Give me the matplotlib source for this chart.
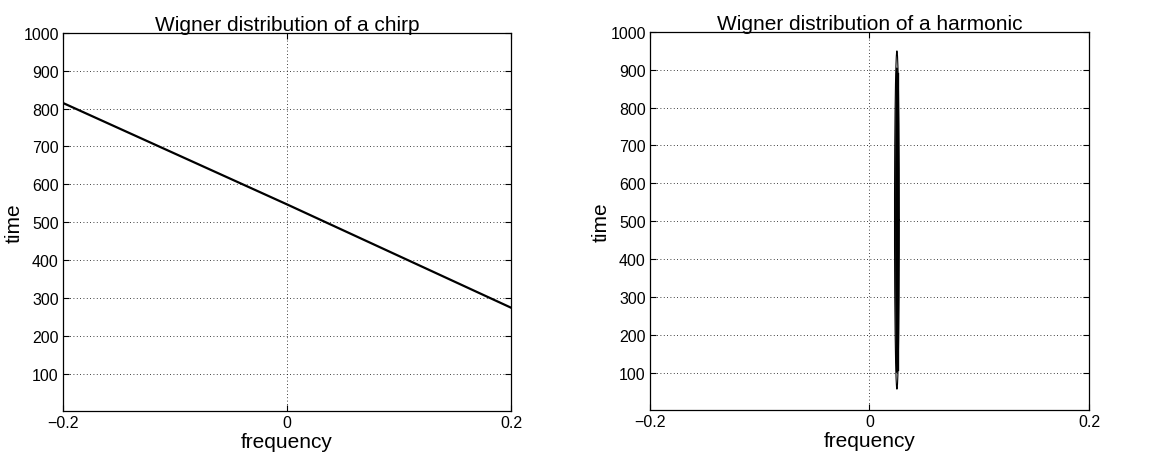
import numpy as np
import matplotlib
matplotlib.use("Agg")
import matplotlib.pyplot as plt

plt.rcParams['font.family'] = ['Liberation Sans', 'DejaVu Sans']

# Chirp: instantaneous frequency line (frequency, time)
chirp_freq = [-0.2, 0.0, 0.2]
chirp_time = [815, 547, 274]

# Harmonic: contour outlines (center frequency, half-width, time start, time end)
harm_freq = 0.025
harm_halfwidth = [0.0022, 0.0012, 0.0006]
harm_t_start = [56, 100, 140]
harm_t_end = [950, 905, 880]
harm_core_t = [110, 890]   # thick core segment

yticks = [100, 200, 300, 400, 500, 600, 700, 800, 900, 1000]
xticks = [-0.2, 0, 0.2]
xticklabels = ['\u22120.2', '0', '0.2']

fig = plt.figure(figsize=(11.58, 4.56), dpi=100)
ax1 = fig.add_axes([0.0544, 0.0965, 0.3869, 0.829])
ax2 = fig.add_axes([0.5613, 0.0987, 0.3791, 0.829])

def style(ax, title):
    ax.set_xlim(-0.2, 0.2)
    ax.set_ylim(1, 1000)
    ax.set_xticks(xticks)
    ax.set_xticklabels(xticklabels)
    ax.set_yticks(yticks)
    ax.tick_params(direction='in', top=True, right=True, labelsize=11.5,
                   length=4, width=0.8, pad=3)
    ax.grid(True, linestyle=(0, (1, 3)), color='black', linewidth=0.6)
    for s in ax.spines.values():
        s.set_linewidth(0.9)
    ax.set_title(title, fontsize=15, pad=2)
    ax.set_xlabel('frequency', fontsize=15, labelpad=1)
    ax.set_ylabel('time', fontsize=15, labelpad=0)

ax1.plot(chirp_freq, chirp_time, color='black', linewidth=1.6)
style(ax1, 'Wigner distribution of a chirp')

theta = np.linspace(0, 2 * np.pi, 400)
for hw, t0, t1 in zip(harm_halfwidth, harm_t_start, harm_t_end):
    tc = 0.5 * (t0 + t1)
    th = 0.5 * (t1 - t0)
    ax2.plot(harm_freq + hw * np.cos(theta), tc + th * np.sin(theta),
             color='black', linewidth=0.8)
ax2.plot([harm_freq, harm_freq], harm_core_t, color='black', linewidth=2.4)
style(ax2, 'Wigner distribution of a harmonic')

fig.savefig('out.png', dpi=100)
